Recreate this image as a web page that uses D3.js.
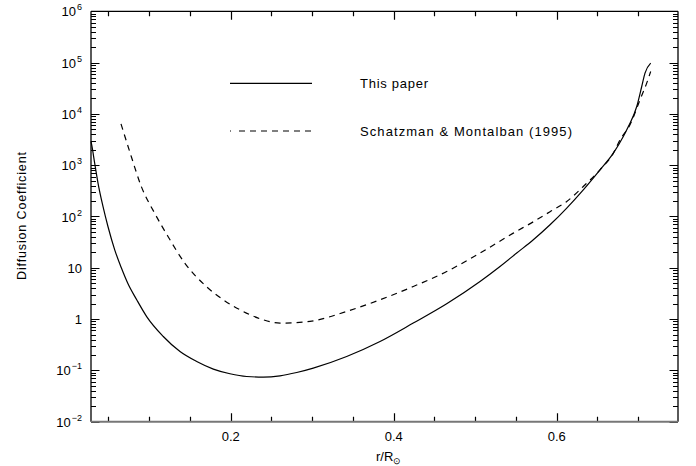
<!DOCTYPE html>
<html>
<head>
<meta charset="utf-8">
<script src="https://cdn.jsdelivr.net/npm/d3@7"></script>
<style>
  html, body { margin: 0; padding: 0; background: #fff; }
  svg { display: block; font-family: 'Liberation Sans', Arial, sans-serif; }
</style>
</head>
<body>
<svg id="chart" width="696" height="466"></svg>
<script>
// Diffusion coefficient vs radius, log y axis
var rThis = [0.0286, 0.0298, 0.0331, 0.0372, 0.0433, 0.0494, 0.0577, 0.0658, 0.0740, 0.0847,
             0.0969, 0.1173, 0.1378, 0.1583, 0.1787, 0.1991, 0.2196, 0.2400, 0.2605, 0.2810,
             0.3013, 0.3423, 0.3832, 0.4240, 0.4650, 0.5059, 0.5304, 0.5509, 0.5713, 0.5918,
             0.6123, 0.6326, 0.6531, 0.6695, 0.6817, 0.6879, 0.6982, 0.7043, 0.7083, 0.7153];
var dThis = [2900, 2317, 1099, 448, 157, 63.8, 22.4, 10.0, 4.88, 2.38,
             1.12, 0.458, 0.233, 0.149, 0.106, 0.0859, 0.0760, 0.0740, 0.0785, 0.0910,
             0.111, 0.187, 0.366, 0.836, 1.99, 5.41, 10.6, 19.4, 35.2, 68.9,
             146, 331, 813, 1722, 3624, 5675, 13930, 34200, 62370, 97700];

var rSM = [0.0654, 0.0780, 0.0903, 0.1067, 0.1231, 0.1436, 0.1701, 0.1909, 0.2114, 0.2400,
           0.2605, 0.2973, 0.3423, 0.3832, 0.4240, 0.4650, 0.5059, 0.5467, 0.5713, 0.5918,
           0.6123, 0.6326, 0.6531, 0.6695, 0.6777, 0.6899, 0.7022, 0.7104, 0.7153];
var dSM = [6400, 1479, 385, 116, 40.7, 12.4, 4.32, 2.38, 1.52, 0.968,
           0.836, 0.906, 1.41, 2.38, 4.32, 8.47, 19.4, 47.4, 78.9, 124,
           196, 385, 813, 1722, 3126, 6124, 18840, 39810, 67140];

var X_DOMAIN = [0.0286, 0.7488];
var Y_DOMAIN = [1e-2, 1e6];
var xMajor = [0.2, 0.4, 0.6];
var xMajorLabels = ['0.2', '0.4', '0.6'];
var yMajor = [1e-2, 1e-1, 1, 10, 1e2, 1e3, 1e4, 1e5, 1e6];
var yBase = ['10', '10', '1', '10', '10', '10', '10', '10', '10'];
var yExp = ['\u22122', '\u22121', '', '', '2', '3', '4', '5', '6'];
var legendLabels = ['This paper', 'Schatzman & Montalban (1995)'];

(function () {
    var svg = d3.select('#chart');
    var L = 91, R = 678, T = 11.3, B = 421.7;

    var x = d3.scaleLinear().domain(X_DOMAIN).range([L, R]);
    var y = d3.scaleLog().domain(Y_DOMAIN).range([B, T]);

    // minor tick values
    var xMinor = d3.range(1, 15).map(function (i) { return i * 0.05; }).filter(function (v) {
        return xMajor.every(function (m) { return Math.abs(m - v) > 1e-6; });
    });
    var yMinor = [];
    for (var e = -2; e < 6; e++) {
        for (var k = 2; k <= 9; k++) yMinor.push(k * Math.pow(10, e));
    }

    // all ticks as one path, pointing inward on all four sides
    var tickPath = d3.path();
    function yTicks(vals, len) {
        vals.forEach(function (d) {
            var py = Math.round(y(d)) + 0.5;
            tickPath.moveTo(L, py); tickPath.lineTo(L + len, py);
            tickPath.moveTo(R, py); tickPath.lineTo(R - len, py);
        });
    }
    function xTicks(vals, len) {
        vals.forEach(function (d) {
            var px = Math.round(x(d)) + 0.5;
            tickPath.moveTo(px, B); tickPath.lineTo(px, B - len);
            tickPath.moveTo(px, T); tickPath.lineTo(px, T + len);
        });
    }
    yTicks(yMinor, 5);
    yTicks(yMajor, 8.5);
    xTicks(xMinor, 5);
    xTicks(xMajor, 8.5);
    svg.append('path')
        .attr('d', tickPath.toString())
        .attr('fill', 'none')
        .attr('stroke', '#000')
        .attr('stroke-width', 1.2);

    // frame
    svg.append('line').attr('x1', L).attr('x2', L).attr('y1', T).attr('y2', B)
        .attr('stroke', '#000').attr('stroke-width', 1.3);
    svg.append('line').attr('x1', R).attr('x2', R).attr('y1', T).attr('y2', B)
        .attr('stroke', '#000').attr('stroke-width', 1.3);
    svg.append('line').attr('x1', L).attr('x2', R).attr('y1', T).attr('y2', T)
        .attr('stroke', '#000').attr('stroke-width', 1.3);
    svg.append('line').attr('x1', L).attr('x2', R).attr('y1', B).attr('y2', B)
        .attr('stroke', '#777').attr('stroke-width', 2);

    // y labels
    yMajor.forEach(function (v, i) {
        var t = svg.append('text')
            .attr('x', 82).attr('y', y(v) + 5)
            .attr('text-anchor', 'end')
            .attr('font-size', 13);
        t.append('tspan').text(yBase[i]);
        if (yExp[i]) {
            t.append('tspan').attr('font-size', 9).attr('dy', -6).attr('dx', 1).text(yExp[i]);
        }
    });

    // x labels
    xMajor.forEach(function (v, i) {
        svg.append('text')
            .attr('x', x(v)).attr('y', 441)
            .attr('text-anchor', 'middle')
            .attr('font-size', 13)
            .text(xMajorLabels[i]);
    });

    var xt = svg.append('text').attr('x', 376).attr('y', 461).attr('font-size', 13);
    xt.append('tspan').text('r/R');
    xt.append('tspan').attr('font-size', 9).attr('dy', 3).text('\u2299');

    svg.append('text')
        .attr('transform', 'translate(26,216) rotate(-90)')
        .attr('text-anchor', 'middle')
        .attr('font-size', 12.5)
        .attr('textLength', 128).attr('lengthAdjust', 'spacing')
        .text('Diffusion Coefficient');

    // curves
    var line = d3.line()
        .x(function (d) { return x(d[0]); })
        .y(function (d) { return y(d[1]); })
        .curve(d3.curveMonotoneX);

    svg.append('path')
        .datum(d3.zip(rThis, dThis))
        .attr('fill', 'none').attr('stroke', '#000').attr('stroke-width', 1.2)
        .attr('d', line);
    svg.append('path')
        .datum(d3.zip(rSM, dSM))
        .attr('fill', 'none').attr('stroke', '#000').attr('stroke-width', 1.2)
        .attr('stroke-dasharray', '6,5')
        .attr('d', line);

    // legend
    var legY = [83.3, 131];
    var legLen = [68, 212];
    svg.append('line').attr('x1', 230).attr('x2', 312).attr('y1', legY[0]).attr('y2', legY[0])
        .attr('stroke', '#000').attr('stroke-width', 1.2);
    svg.append('line').attr('x1', 230).attr('x2', 312).attr('y1', legY[1]).attr('y2', legY[1])
        .attr('stroke', '#000').attr('stroke-width', 1.2)
        .attr('stroke-dasharray', '1,8,6,5,6,5,6,5,6,5,6,5,6,5,6,5');
    legendLabels.forEach(function (s, i) {
        svg.append('text')
            .attr('x', 360).attr('y', legY[i] + 5)
            .attr('font-size', 13)
            .attr('textLength', legLen[i]).attr('lengthAdjust', 'spacing')
            .text(s);
    });
})();
</script>
</body>
</html>
